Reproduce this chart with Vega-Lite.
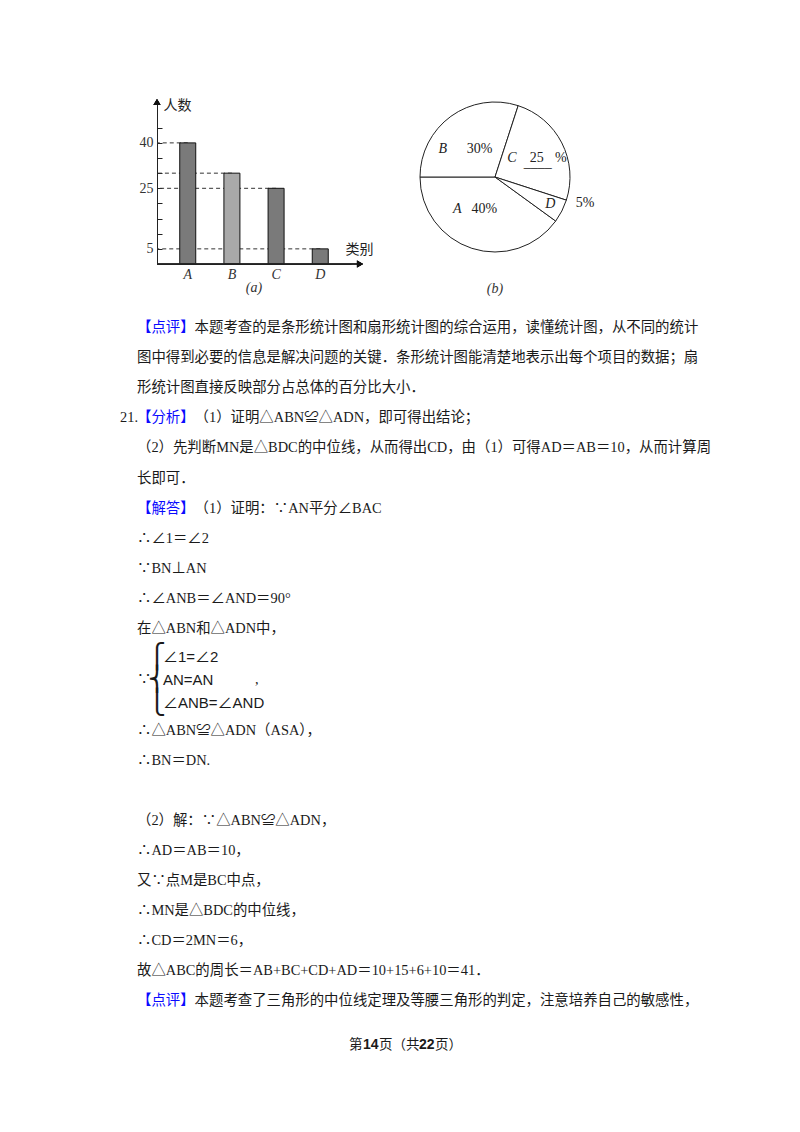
{
  "$schema": "https://vega.github.io/schema/vega-lite/v6.json",
  "background": "white",
  "padding": {"left": 120, "top": 79, "right": 10, "bottom": 10},
  "spacing": 0,
  "config": {"view": {"stroke": null}, "axis": {"grid": false}, "title": {"fontWeight": "normal"}},
  "datasets": {
    "bars": [
      {"cat": "A", "n": 40},
      {"cat": "B", "n": 30},
      {"cat": "C", "n": 25},
      {"cat": "D", "n": 5}
    ],
    "pie": [
      {"cat": "A", "pct": 40, "lab": "40%"},
      {"cat": "B", "pct": 30, "lab": "30%"},
      {"cat": "C", "pct": 25, "lab": "25%"},
      {"cat": "D", "pct": 5, "lab": "5%"}
    ],
    "text": [
      {"b": 1, "l": 1, "p": "label", "t": "【点评】"},
      {"b": 1, "l": 1, "p": "rest", "t": "本题考查的是条形统计图和扇形统计图的综合运用，读懂统计图，从不同的统计"},
      {"b": 1, "l": 2, "p": "main", "t": "图中得到必要的信息是解决问题的关键．条形统计图能清楚地表示出每个项目的数据；扇"},
      {"b": 1, "l": 3, "p": "main", "t": "形统计图直接反映部分占总体的百分比大小．"},
      {"b": 1, "l": 4, "p": "num", "t": "21."},
      {"b": 1, "l": 4, "p": "label", "t": "【分析】"},
      {"b": 1, "l": 4, "p": "rest", "t": "（1）证明△ABN≌△ADN，即可得出结论；"},
      {"b": 1, "l": 5, "p": "main", "t": "（2）先判断MN是△BDC的中位线，从而得出CD，由（1）可得AD＝AB＝10，从而计算周"},
      {"b": 1, "l": 6, "p": "main", "t": "长即可．"},
      {"b": 1, "l": 7, "p": "label", "t": "【解答】"},
      {"b": 1, "l": 7, "p": "rest", "t": "（1）证明：∵AN平分∠BAC"},
      {"b": 1, "l": 8, "p": "main", "t": "∴∠1＝∠2"},
      {"b": 1, "l": 9, "p": "main", "t": "∵BN⊥AN"},
      {"b": 1, "l": 10, "p": "main", "t": "∴∠ANB＝∠AND＝90°"},
      {"b": 1, "l": 11, "p": "main", "t": "在△ABN和△ADN中，"},
      {"b": 2, "l": 1, "p": "brace", "t": "⎧"},
      {"b": 2, "l": 1, "p": "eq", "t": "∠1=∠2"},
      {"b": 2, "l": 2, "p": "since", "t": "∵"},
      {"b": 2, "l": 2, "p": "brace", "t": "⎨"},
      {"b": 2, "l": 2, "p": "eq", "t": "AN=AN"},
      {"b": 2, "l": 2, "p": "comma", "t": ","},
      {"b": 2, "l": 3, "p": "brace", "t": "⎩"},
      {"b": 2, "l": 3, "p": "eq", "t": "∠ANB=∠AND"},
      {"b": 3, "l": 1, "p": "main", "t": "∴△ABN≌△ADN（ASA），"},
      {"b": 3, "l": 2, "p": "main", "t": "∴BN＝DN."},
      {"b": 4, "l": 1, "p": "main", "t": "（2）解：∵△ABN≌△ADN，"},
      {"b": 4, "l": 2, "p": "main", "t": "∴AD＝AB＝10，"},
      {"b": 4, "l": 3, "p": "main", "t": "又∵点M是BC中点，"},
      {"b": 4, "l": 4, "p": "main", "t": "∴MN是△BDC的中位线，"},
      {"b": 4, "l": 5, "p": "main", "t": "∴CD＝2MN＝6，"},
      {"b": 4, "l": 6, "p": "main", "t": "故△ABC的周长＝AB+BC+CD+AD＝10+15+6+10＝41．"},
      {"b": 4, "l": 7, "p": "label", "t": "【点评】"},
      {"b": 4, "l": 7, "p": "rest", "t": "本题考查了三角形的中位线定理及等腰三角形的判定，注意培养自己的敏感性，"},
      {"b": 5, "l": 1, "p": "f1", "t": "第"},
      {"b": 5, "l": 1, "p": "f2", "t": "14"},
      {"b": 5, "l": 1, "p": "f3", "t": "页（共"},
      {"b": 5, "l": 1, "p": "f4", "t": "22"},
      {"b": 5, "l": 1, "p": "f5", "t": "页）"}
    ]
  },
  "vconcat": [
    {
      "bounds": "flush",
      "spacing": 0,
      "hconcat": [
        {
          "width": 37,
          "height": 211,
          "data": {"values": [{}]},
          "mark": {"type": "text"},
          "encoding": {"text": {"value": ""}}
        },
        {
          "width": 194,
          "height": 162,
          "title": {"text": "(a)", "orient": "bottom", "font": "Liberation Serif", "fontSize": 14, "fontStyle": "italic", "color": "#333", "offset": 0},
          "data": {"name": "bars"},
          "encoding": {
            "x": {
              "field": "cat",
              "type": "nominal",
              "scale": {"paddingInner": 0.638, "paddingOuter": 0.515},
              "axis": {
                "domain": true,
                "domainColor": "#222",
                "ticks": false,
                "labelAngle": 0,
                "labelFont": "Liberation Serif",
                "labelFontStyle": "italic",
                "labelFontSize": 14,
                "labelColor": "#333",
                "labelPadding": 3,
                "title": "类别",
                "titleFont": "Noto Sans CJK SC",
                "titleFontSize": 14,
                "titleFontWeight": "normal",
                "titleColor": "#222",
                "titleAlign": "left",
                "titleBaseline": "middle",
                "titleX": 188,
                "titleY": -15
              }
            },
            "y": {
              "field": "n",
              "type": "quantitative",
              "scale": {"domain": [0, 53.5], "nice": false},
              "axis": {
                "values": [5, 10, 15, 20, 25, 30, 35, 40, 45],
                "labelExpr": "indexof([5, 25, 40], datum.value) >= 0 ? datum.label : ''",
                "tickSize": -5,
                "tickColor": "#222",
                "domainColor": "#222",
                "labelPadding": 9,
                "labelFont": "Liberation Serif",
                "labelFontSize": 14,
                "labelColor": "#333",
                "title": "人数",
                "titleFont": "Noto Sans CJK SC",
                "titleFontSize": 14,
                "titleFontWeight": "normal",
                "titleColor": "#222",
                "titleAngle": 0,
                "titleAlign": "left",
                "titleBaseline": "middle",
                "titleX": 6,
                "titleY": 3
              }
            }
          },
          "layer": [
            {
              "mark": {"type": "rule", "strokeDash": [4, 3], "color": "#333", "strokeWidth": 1},
              "encoding": {"x2": {"value": 0}}
            },
            {
              "mark": {"type": "bar", "stroke": "#111", "strokeWidth": 1},
              "encoding": {
                "color": {
                  "field": "cat",
                  "type": "nominal",
                  "scale": {"domain": ["A", "B", "C", "D"], "range": ["#7a7a7a", "#a9a9a9", "#7a7a7a", "#7a7a7a"]},
                  "legend": null
                }
              }
            },
            {
              "mark": {"type": "rule", "color": "#222", "strokeWidth": 1},
              "encoding": {"x": {"value": 0}, "x2": {"value": 203}, "y": {"datum": 0}}
            },
            {
              "mark": {"type": "point", "shape": "triangle-right", "filled": true, "size": 50, "color": "#111", "opacity": 1},
              "encoding": {"x": {"value": 203}, "y": {"datum": 0}}
            },
            {
              "mark": {"type": "point", "shape": "triangle-up", "filled": true, "size": 50, "color": "#111", "opacity": 1},
              "encoding": {"x": {"value": 0}, "y": {"datum": 53.5}}
            }
          ]
        },
        {
          "width": 69,
          "height": 10,
          "data": {"values": [{}]},
          "mark": {"type": "text"},
          "encoding": {"text": {"value": ""}}
        },
        {
          "width": 150,
          "height": 150,
          "title": {"text": "(b)", "orient": "bottom", "font": "Liberation Serif", "fontSize": 14, "fontStyle": "italic", "color": "#333", "offset": 26},
          "data": {"name": "pie"},
          "encoding": {
            "theta": {"field": "pct", "type": "quantitative", "stack": true, "scale": {"range": [2.199, 8.482]}},
            "order": {"field": "cat", "type": "ordinal"}
          },
          "layer": [
            {"mark": {"type": "arc", "fill": "white", "stroke": "#222", "strokeWidth": 1}},
            {
              "mark": {"type": "text", "radius": 38, "dx": -30, "dy": 3, "font": "Liberation Serif", "fontStyle": "italic", "fontSize": 14, "color": "#222"},
              "encoding": {"text": {"condition": {"test": "datum.cat == 'B'", "field": "cat"}, "value": ""}}
            },
            {
              "mark": {"type": "text", "radius": 38, "dx": 7, "dy": 3, "font": "Liberation Serif", "fontSize": 14, "color": "#222"},
              "encoding": {"text": {"condition": {"test": "datum.cat == 'B'", "field": "lab"}, "value": ""}}
            },
            {
              "mark": {"type": "text", "radius": 38, "dx": -17, "dy": -2, "font": "Liberation Serif", "fontStyle": "italic", "fontSize": 14, "color": "#222"},
              "encoding": {"text": {"condition": {"test": "datum.cat == 'C'", "field": "cat"}, "value": ""}}
            },
            {
              "mark": {"type": "text", "radius": 38, "dx": 8, "dy": -2, "font": "Liberation Serif", "fontSize": 14, "color": "#222"},
              "encoding": {"text": {"condition": {"test": "datum.cat == 'C'", "field": "pct"}, "value": ""}}
            },
            {
              "mark": {"type": "text", "radius": 38, "dx": 9, "dy": 3, "font": "Liberation Serif", "fontSize": 14, "color": "#222"},
              "encoding": {"text": {"condition": {"test": "datum.cat == 'C'", "value": "____"}, "value": ""}}
            },
            {
              "mark": {"type": "text", "radius": 38, "dx": 32, "dy": -2, "font": "Liberation Serif", "fontSize": 14, "color": "#222"},
              "encoding": {"text": {"condition": {"test": "datum.cat == 'C'", "value": "%"}, "value": ""}}
            },
            {
              "mark": {"type": "text", "radius": 38, "dx": -26, "dy": -4, "font": "Liberation Serif", "fontStyle": "italic", "fontSize": 14, "color": "#222"},
              "encoding": {"text": {"condition": {"test": "datum.cat == 'A'", "field": "cat"}, "value": ""}}
            },
            {
              "mark": {"type": "text", "radius": 38, "dx": 1, "dy": -4, "font": "Liberation Serif", "fontSize": 14, "color": "#222"},
              "encoding": {"text": {"condition": {"test": "datum.cat == 'A'", "field": "lab"}, "value": ""}}
            },
            {
              "mark": {"type": "text", "radius": 62, "dx": 0, "dy": -1, "font": "Liberation Serif", "fontStyle": "italic", "fontSize": 14, "color": "#222"},
              "encoding": {"text": {"condition": {"test": "datum.cat == 'D'", "field": "cat"}, "value": ""}}
            },
            {
              "mark": {"type": "text", "radius": 92, "dx": 8, "dy": -16, "font": "Liberation Serif", "fontSize": 14, "color": "#222"},
              "encoding": {"text": {"condition": {"test": "datum.cat == 'D'", "field": "lab"}, "value": ""}}
            }
          ]
        }
      ]
    },
    {
      "width": 600,
      "height": 331,
      "data": {"name": "text"},
      "transform": [{"filter": "datum.b == 1"}],
      "encoding": {"y": {"field": "l", "type": "ordinal", "axis": null, "scale": {"domain": [1, 2, 3, 4, 5, 6, 7, 8, 9, 10, 11]}}},
      "layer": [
        {
          "transform": [{"filter": "datum.p == 'main'"}],
          "mark": {"type": "text", "align": "left", "baseline": "middle", "font": "Liberation Serif, Noto Sans CJK SC", "fontSize": 14.4, "color": "#1a1a1a"},
          "encoding": {"x": {"value": 17}, "text": {"field": "t"}}
        },
        {
          "transform": [{"filter": "datum.p == 'rest'"}],
          "mark": {"type": "text", "align": "left", "baseline": "middle", "font": "Liberation Serif, Noto Sans CJK SC", "fontSize": 14.4, "color": "#1a1a1a"},
          "encoding": {"x": {"value": 74.6}, "text": {"field": "t"}}
        },
        {
          "transform": [{"filter": "datum.p == 'label'"}],
          "mark": {"type": "text", "align": "left", "baseline": "middle", "font": "Noto Sans CJK SC", "fontSize": 14.4, "color": "#0a0aff"},
          "encoding": {"x": {"value": 17}, "text": {"field": "t"}}
        },
        {
          "transform": [{"filter": "datum.p == 'num'"}],
          "mark": {"type": "text", "align": "left", "baseline": "middle", "font": "Liberation Serif", "fontSize": 14.4, "color": "#1a1a1a"},
          "encoding": {"x": {"value": 0}, "text": {"field": "t"}}
        }
      ]
    },
    {
      "width": 600,
      "height": 70,
      "data": {"name": "text"},
      "transform": [{"filter": "datum.b == 2"}],
      "encoding": {"y": {"field": "l", "type": "ordinal", "axis": null, "scale": {"domain": [1, 2, 3]}}},
      "layer": [
        {
          "transform": [{"filter": "datum.p == 'since'"}],
          "mark": {"type": "text", "align": "left", "baseline": "middle", "font": "Noto Sans CJK SC", "fontSize": 14.4, "color": "#1a1a1a"},
          "encoding": {"x": {"value": 17}, "text": {"field": "t"}}
        },
        {
          "transform": [{"filter": "datum.p == 'brace'"}],
          "mark": {"type": "text", "align": "left", "baseline": "middle", "font": "DejaVu Sans", "fontSize": 24, "color": "#1a1a1a"},
          "encoding": {"x": {"value": 28}, "text": {"field": "t"}}
        },
        {
          "transform": [{"filter": "datum.p == 'eq'"}],
          "mark": {"type": "text", "align": "left", "baseline": "middle", "font": "Liberation Sans Narrow, Liberation Sans, Noto Sans CJK SC", "fontSize": 15, "color": "#1a1a1a"},
          "encoding": {"x": {"value": 43}, "text": {"field": "t"}}
        },
        {
          "transform": [{"filter": "datum.p == 'comma'"}],
          "mark": {"type": "text", "align": "left", "baseline": "middle", "font": "Liberation Serif", "fontSize": 14.4, "color": "#1a1a1a"},
          "encoding": {"x": {"value": 135}, "text": {"field": "t"}}
        }
      ]
    },
    {
      "width": 600,
      "height": 90,
      "data": {"name": "text"},
      "transform": [{"filter": "datum.b == 3"}],
      "encoding": {"y": {"field": "l", "type": "ordinal", "axis": null, "scale": {"domain": [1, 2, 3]}}},
      "layer": [
        {
          "mark": {"type": "text", "align": "left", "baseline": "middle", "font": "Liberation Serif, Noto Sans CJK SC", "fontSize": 14.4, "color": "#1a1a1a"},
          "encoding": {"x": {"value": 17}, "text": {"field": "t"}}
        }
      ]
    },
    {
      "width": 600,
      "height": 210,
      "data": {"name": "text"},
      "transform": [{"filter": "datum.b == 4"}],
      "encoding": {"y": {"field": "l", "type": "ordinal", "axis": null, "scale": {"domain": [1, 2, 3, 4, 5, 6, 7]}}},
      "layer": [
        {
          "transform": [{"filter": "datum.p == 'main'"}],
          "mark": {"type": "text", "align": "left", "baseline": "middle", "font": "Liberation Serif, Noto Sans CJK SC", "fontSize": 14.4, "color": "#1a1a1a"},
          "encoding": {"x": {"value": 17}, "text": {"field": "t"}}
        },
        {
          "transform": [{"filter": "datum.p == 'rest'"}],
          "mark": {"type": "text", "align": "left", "baseline": "middle", "font": "Liberation Serif, Noto Sans CJK SC", "fontSize": 14.4, "color": "#1a1a1a"},
          "encoding": {"x": {"value": 74.6}, "text": {"field": "t"}}
        },
        {
          "transform": [{"filter": "datum.p == 'label'"}],
          "mark": {"type": "text", "align": "left", "baseline": "middle", "font": "Noto Sans CJK SC", "fontSize": 14.4, "color": "#0a0aff"},
          "encoding": {"x": {"value": 17}, "text": {"field": "t"}}
        }
      ]
    },
    {
      "width": 600,
      "height": 58,
      "data": {"name": "text"},
      "transform": [{"filter": "datum.b == 5"}],
      "encoding": {"y": {"field": "l", "type": "ordinal", "axis": null, "scale": {"domain": [1]}}},
      "layer": [
        {
          "transform": [{"filter": "datum.p == 'f1'"}],
          "mark": {"type": "text", "align": "left", "baseline": "middle", "font": "Noto Sans CJK SC", "fontSize": 13.5, "color": "#1a1a1a"},
          "encoding": {"x": {"value": 229}, "text": {"field": "t"}}
        },
        {
          "transform": [{"filter": "datum.p == 'f2'"}],
          "mark": {"type": "text", "align": "left", "baseline": "middle", "font": "Liberation Sans", "fontWeight": "bold", "fontSize": 14, "color": "#1a1a1a"},
          "encoding": {"x": {"value": 243}, "text": {"field": "t"}}
        },
        {
          "transform": [{"filter": "datum.p == 'f3'"}],
          "mark": {"type": "text", "align": "left", "baseline": "middle", "font": "Noto Sans CJK SC", "fontSize": 13.5, "color": "#1a1a1a"},
          "encoding": {"x": {"value": 259}, "text": {"field": "t"}}
        },
        {
          "transform": [{"filter": "datum.p == 'f4'"}],
          "mark": {"type": "text", "align": "left", "baseline": "middle", "font": "Liberation Sans", "fontWeight": "bold", "fontSize": 14, "color": "#1a1a1a"},
          "encoding": {"x": {"value": 299}, "text": {"field": "t"}}
        },
        {
          "transform": [{"filter": "datum.p == 'f5'"}],
          "mark": {"type": "text", "align": "left", "baseline": "middle", "font": "Noto Sans CJK SC", "fontSize": 13.5, "color": "#1a1a1a"},
          "encoding": {"x": {"value": 315}, "text": {"field": "t"}}
        }
      ]
    }
  ]
}
